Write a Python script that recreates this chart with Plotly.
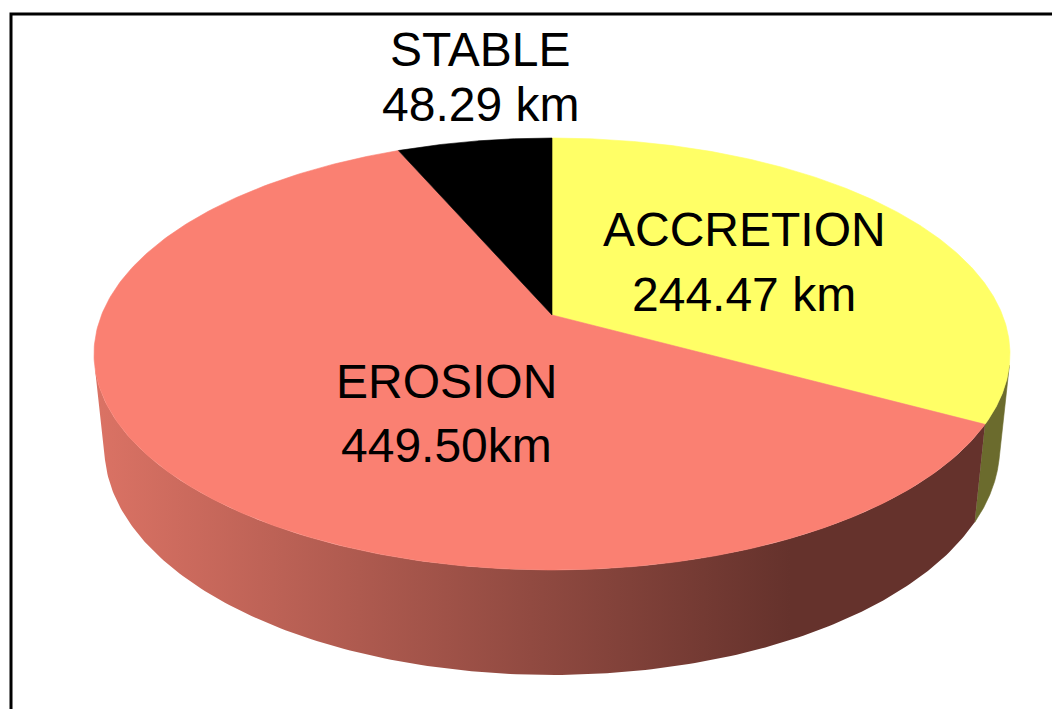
import numpy as np
import plotly.graph_objects as go

# ---------------- data ----------------
categories = ["ACCRETION", "EROSION", "STABLE"]
lengths_km = [244.47, 449.50, 48.29]
value_labels = ["244.47 km", "449.50km", "48.29 km"]

# ---------------- styles ----------------
top_colors = ["#FFFF66", "#FA8072", "#000000"]
side_colors = ["rgb(107,107,45)", "gradient", "rgb(25,25,25)"]
side_gradient = [[0.0, "rgb(218,114,100)"], [0.767, "rgb(101,50,44)"], [1.0, "rgb(101,50,44)"]]
label_pos = [(744, 229, 294), (446, 381, 445), (480, 49, 104)]  # x, line1 y, line2 y (px)
FONT = dict(family="Liberation Sans, Arial, sans-serif", size=48, color="black")

# ---------------- 3D pie projection (layout geometry) ----------------
W, H = 1052, 709
CX, CY = 552, 315          # projected pie centre
SIN_E = 0.4638             # camera elevation
COS_E = np.sqrt(1 - SIN_E ** 2)
DIST = 4.906               # camera distance (radius = 1)
FOCAL = 2210
THICK = 0.2356             # pie thickness (radius = 1)


def proj(phi_deg, z):
    phi = np.radians(phi_deg)
    X = np.sin(phi)
    Y = np.cos(phi)
    depth = DIST + Y * COS_E - z * SIN_E
    x = CX + FOCAL * X / depth
    y = CY - FOCAL * (Y * SIN_E + z * COS_E) / depth
    return x, y


total = sum(lengths_km)
bounds = np.concatenate([[0], np.cumsum(lengths_km) / total * 360.0])
sil = np.degrees(np.arccos(-1.0 / (DIST * COS_E)))   # side silhouette angle

fig = go.Figure()

# sides (front visible part only)
for i, cat in enumerate(categories):
    a = max(bounds[i], sil)
    b = min(bounds[i + 1], 360 - sil)
    if b <= a:
        continue
    phis = np.linspace(a, b, 200)
    xt, yt = proj(phis, 0.0)
    xb, yb = proj(phis[::-1], -THICK)
    xs = np.concatenate([xt, xb, xt[:1]])
    ys = np.concatenate([yt, yb, yt[:1]])
    kw = dict(x=xs, y=ys, mode="lines", fill="toself", hoverinfo="skip",
              showlegend=False)
    if side_colors[i] == "gradient":
        kw["fillgradient"] = dict(type="horizontal", colorscale=side_gradient,
                                  start=100, stop=1000)
        kw["line"] = dict(width=0, color="rgba(0,0,0,0)")
    else:
        kw["fillcolor"] = side_colors[i]
        kw["line"] = dict(width=0.6, color=side_colors[i])
    fig.add_trace(go.Scatter(**kw))

# top faces
for i, cat in enumerate(categories):
    phis = np.linspace(bounds[i], bounds[i + 1], 300)
    xa, ya = proj(phis, 0.0)
    xs = np.concatenate([[CX], xa, [CX]])
    ys = np.concatenate([[CY], ya, [CY]])
    fig.add_trace(go.Scatter(x=xs, y=ys, mode="lines", fill="toself",
                             fillcolor=top_colors[i],
                             line=dict(width=0.6, color=top_colors[i]),
                             hoverinfo="skip", showlegend=False))

# labels
for i, cat in enumerate(categories):
    lx, ly1, ly2 = label_pos[i]
    fig.add_annotation(x=lx, y=ly1, text=cat, showarrow=False,
                       xanchor="center", yanchor="middle", font=FONT)
    fig.add_annotation(x=lx, y=ly2, text=value_labels[i], showarrow=False,
                       xanchor="center", yanchor="middle", font=FONT)

# chart border
fig.add_shape(type="rect", x0=11, y0=14, x1=W + 20, y1=H + 20,
              line=dict(color="black", width=3), fillcolor="rgba(0,0,0,0)")

fig.update_xaxes(range=[0, W], visible=False, fixedrange=True)
fig.update_yaxes(range=[H, 0], visible=False, fixedrange=True)
fig.update_layout(width=W, height=H, margin=dict(l=0, r=0, t=0, b=0),
                  paper_bgcolor="white", plot_bgcolor="white",
                  showlegend=False)

fig.write_html("out.html")
